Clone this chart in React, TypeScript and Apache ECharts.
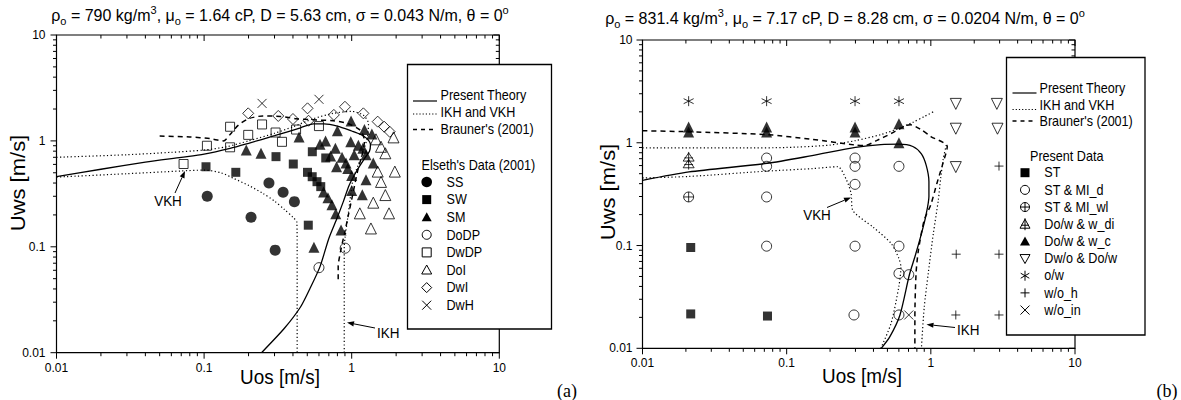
import React, { useEffect, useRef } from 'react';
import * as echarts from 'echarts';

// ---------- Panel (a) data: Elseth's Data (2001) ----------
const A_SS = [[0.105, 0.30], [0.208, 0.19], [0.275, 0.40], [0.343, 0.327], [0.409, 0.267], [0.303, 0.093]];
const A_SW = [[0.103, 0.57], [0.164, 0.505], [0.307, 0.71], [0.402, 0.605], [0.541, 0.79], [0.667, 0.69], [0.502, 0.505], [0.54, 0.459], [0.582, 0.412], [0.617, 0.37], [0.508, 0.16]];
const A_SM = [[0.193, 0.82], [0.243, 0.765], [0.44, 1.09], [0.61, 0.93], [0.665, 1.0], [0.80, 1.25], [0.775, 0.85], [0.79, 0.57], [0.915, 0.62], [0.99, 1.54], [0.985, 0.98], [1.04, 0.74], [1.11, 0.91], [1.19, 0.85], [1.22, 1.28], [1.37, 1.16], [1.25, 0.74], [1.40, 0.62], [1.0, 0.47], [1.0, 0.34], [1.18, 0.31], [1.25, 0.43], [0.645, 0.33], [0.69, 0.29], [0.735, 0.25], [0.78, 0.205], [0.847, 0.144], [0.555, 0.099], [0.72, 0.72], [0.86, 0.70], [0.94, 0.55]];
const A_DoDP = [[0.60, 0.0635], [0.903, 0.097]];
const A_DwDP = [[0.0726, 0.605], [0.1045, 0.90], [0.150, 1.36], [0.150, 0.87], [0.199, 1.14], [0.247, 1.43], [0.305, 1.20], [0.337, 0.98], [0.42, 1.28], [0.60, 1.38]];
const A_DoI = [[1.92, 1.08], [1.96, 0.513], [1.69, 0.764], [1.58, 0.88], [1.46, 1.035], [1.50, 0.513], [1.58, 0.41], [1.69, 0.308], [1.79, 0.207], [1.40, 0.261], [1.135, 0.207], [1.35, 0.149]];
const A_DwI = [[0.199, 1.82], [0.318, 1.72], [0.40, 1.61], [0.502, 2.03], [0.51, 1.55], [0.757, 1.76], [0.90, 2.10], [1.20, 1.82], [1.50, 1.52], [1.66, 1.36], [1.81, 1.22]];
const A_DwH = [[0.247, 2.26], [0.60, 2.47]];

const A_THEORY = [[0.01, 0.46], [0.02, 0.54], [0.04, 0.63], [0.07, 0.70], [0.1, 0.75], [0.15, 0.85], [0.2, 0.95], [0.3, 1.12], [0.45, 1.33], [0.55, 1.45], [0.65, 1.45], [0.8, 1.38], [1.0, 1.24], [1.15, 1.15], [1.27, 1.05], [1.34, 0.92], [1.32, 0.8], [1.22, 0.68], [1.08, 0.52], [0.96, 0.38], [0.88, 0.27], [0.80, 0.19], [0.70, 0.12], [0.61, 0.065], [0.52, 0.04], [0.45, 0.027], [0.35, 0.017], [0.245, 0.01]];
const A_IKH = [[0.01, 0.70], [0.03, 0.74], [0.06, 0.78], [0.1, 0.82], [0.142, 0.88], [0.2, 1.0], [0.3, 1.18], [0.4, 1.36], [0.55, 1.62], [0.75, 1.82], [1.0, 1.9], [1.2, 1.75], [1.3, 1.45], [1.28, 1.1], [1.2, 0.8], [1.1, 0.58], [1.02, 0.43], [0.95, 0.21], [0.9, 0.12], [0.89, 0.1], [0.89, 0.01]];
const A_VKH = [[0.01, 0.455], [0.03, 0.49], [0.07, 0.52], [0.1, 0.53], [0.13, 0.5], [0.16, 0.44], [0.2, 0.38], [0.25, 0.32], [0.3, 0.27], [0.35, 0.225], [0.4, 0.19], [0.425, 0.17], [0.427, 0.1], [0.427, 0.01]];
const A_BRAUNER = [[0.05, 1.11], [0.08, 1.09], [0.11, 1.05], [0.135, 1.0], [0.15, 1.15], [0.17, 1.4], [0.2, 1.62], [0.25, 1.72], [0.33, 1.7], [0.42, 1.62], [0.55, 1.58], [0.75, 1.55], [0.95, 1.45], [1.15, 1.25], [1.22, 1.0], [1.18, 0.75], [1.1, 0.53], [1.02, 0.32], [0.95, 0.2], [0.9, 0.14], [0.84, 0.09], [0.81, 0.065], [0.81, 0.048]];

// ---------- Panel (b) data: Present Data ----------
const B_ST = [[0.0216, 0.0957], [0.0216, 0.0216], [0.0736, 0.0206]];
const B_ST_MId = [[0.0726, 0.71], [0.0726, 0.59], [0.0726, 0.297], [0.0726, 0.0986], [0.298, 0.71], [0.298, 0.59], [0.298, 0.394], [0.298, 0.0986], [0.293, 0.0211], [0.601, 0.59], [0.601, 0.0986], [0.601, 0.0535], [0.703, 0.052], [0.601, 0.0211]];
const B_ST_MIwl = [[0.0209, 0.297]];
const B_Dow_wdi = [[0.0209, 0.72], [0.0209, 0.62]];
const B_Dow_wc = [[0.0209, 1.42], [0.0209, 1.27], [0.0726, 1.42], [0.0726, 1.27], [0.298, 1.42], [0.298, 1.27], [0.601, 1.53], [0.601, 1.0]];
const B_Dwo_Dow = [[1.49, 2.39], [2.87, 2.39], [1.49, 1.37], [2.9, 1.37], [1.49, 0.58]];
const B_ow = [[0.0209, 2.54], [0.0726, 2.54], [0.298, 2.54], [0.601, 2.54]];
const B_wo_h = [[2.97, 0.593], [1.5, 0.0824], [2.97, 0.0824], [1.49, 0.0211], [2.97, 0.0211]];
const B_wo_in = [[0.703, 0.0211]];

const B_THEORY = [[0.01, 0.43], [0.021, 0.52], [0.073, 0.63], [0.15, 0.75], [0.3, 0.90], [0.45, 0.96], [0.6, 0.97], [0.75, 0.92], [0.86, 0.78], [0.93, 0.6], [0.97, 0.42], [0.97, 0.3], [0.92, 0.19], [0.86, 0.13], [0.78, 0.08], [0.71, 0.052], [0.61, 0.021], [0.52, 0.013], [0.453, 0.01]];
const B_IKH_UP = [[0.01, 0.89], [0.05, 0.89], [0.1, 0.9], [0.2, 0.95], [0.3, 1.05], [0.45, 1.2], [0.6, 1.38], [0.75, 1.58], [0.9, 1.8], [1.04, 2.0]];
const B_IKH_RIGHT = [[1.28, 0.95], [1.22, 0.7], [1.17, 0.45], [1.127, 0.277], [1.04, 0.13], [0.96, 0.054], [0.9, 0.025], [0.86, 0.01]];
const B_VKH = [[0.01, 0.455], [0.021, 0.47], [0.073, 0.53], [0.15, 0.56], [0.226, 0.585], [0.26, 0.434], [0.28, 0.32], [0.287, 0.221], [0.4, 0.15], [0.53, 0.105], [0.6, 0.075], [0.62, 0.062], [0.6, 0.04], [0.53, 0.0175], [0.45, 0.01]];
const B_BRAUNER = [[0.01, 1.31], [0.021, 1.28], [0.073, 1.2], [0.15, 1.08], [0.3, 0.95], [0.35, 0.94], [0.42, 1.05], [0.53, 1.23], [0.68, 1.48], [0.72, 1.5], [0.85, 1.35], [1.0, 1.15], [1.3, 0.92], [1.2, 0.6], [1.1, 0.4], [1.0, 0.25], [0.9, 0.177], [0.82, 0.09], [0.79, 0.054], [0.775, 0.02], [0.775, 0.01]];

// axis range and tick labels
const AXIS_MIN = 0.01;
const AXIS_MAX = 10;
const TICK_LABELS = ['0.01', '0.1', '1', '10'];
const MINOR_MULTS = [2, 3, 4, 5, 6, 7, 8, 9];

const FONT = '"Liberation Sans", Arial, Helvetica, sans-serif';
const SERIF = '"Liberation Serif", "Times New Roman", serif';
const SX = 0.9; // horizontal text compression of the source picture

const P_CROSS = 'path://M0,0L10,10M10,0L0,10';
const P_PLUS = 'path://M0,5L10,5M5,0L5,10';
const P_STAR = 'path://M5,0L5,10M0.67,2.5L9.33,7.5M0.67,7.5L9.33,2.5';
const P_CPLUS = 'path://M0,5A5,5,0,1,1,10,5A5,5,0,1,1,0,5ZM0,5L10,5M5,0L5,10';
const P_TRISTEM = 'path://M5,1L10,10L0,10ZM5,0L5,12M1,6.5L9,6.5';

type SymKind = 'circleF' | 'circleO' | 'rectF' | 'rectO' | 'triF' | 'triO' | 'triDownO' | 'diamondO' | 'cross' | 'plus' | 'star' | 'cplus' | 'tristem';

const SYMBOL_OF: Record<SymKind, { symbol: string; filled: boolean; size: number; rotate?: number }> = {
  circleF: { symbol: 'circle', filled: true, size: 11 },
  circleO: { symbol: 'circle', filled: false, size: 10 },
  rectF: { symbol: 'rect', filled: true, size: 9 },
  rectO: { symbol: 'rect', filled: false, size: 9 },
  triF: { symbol: 'triangle', filled: true, size: 11 },
  triO: { symbol: 'triangle', filled: false, size: 11 },
  triDownO: { symbol: 'triangle', filled: false, size: 11, rotate: 180 },
  diamondO: { symbol: 'diamond', filled: false, size: 11 },
  cross: { symbol: P_CROSS, filled: false, size: 9 },
  plus: { symbol: P_PLUS, filled: false, size: 9 },
  star: { symbol: P_STAR, filled: false, size: 10 },
  cplus: { symbol: P_CPLUS, filled: false, size: 10 },
  tristem: { symbol: P_TRISTEM, filled: false, size: 11 },
};

function scatter(name: string, data: number[][], gi: number, kind: SymKind) {
  const s = SYMBOL_OF[kind];
  return {
    type: 'scatter', name, data, xAxisIndex: gi, yAxisIndex: gi,
    symbol: s.symbol, symbolSize: s.size, symbolRotate: s.rotate || 0,
    itemStyle: s.filled ? { color: '#000' } : { color: 'rgba(0,0,0,0)', borderColor: '#000', borderWidth: 1 },
    silent: true, z: 5,
  };
}

function curve(name: string, data: number[][], gi: number, kind: 'solid' | 'dotted' | 'dashed') {
  const ls: any = { color: '#000', width: 1.3, type: 'solid' };
  if (kind === 'dotted') { ls.width = 1.2; ls.type = [1.2, 2.4]; }
  if (kind === 'dashed') { ls.width = 1.5; ls.type = [5, 4]; }
  return {
    type: 'line', name, data, xAxisIndex: gi, yAxisIndex: gi, symbol: 'none', smooth: 0.25,
    lineStyle: ls, silent: true, z: 3, clip: true,
  };
}

function tickSeries(gi: number) {
  return {
    type: 'custom', xAxisIndex: gi, yAxisIndex: gi, data: [[1, 1]], silent: true, z: 2, clip: false,
    renderItem: (_p: any, api: any) => {
      const children: any[] = [];
      const add = (x1: number, y1: number, x2: number, y2: number) =>
        children.push({ type: 'line', shape: { x1, y1, x2, y2 }, style: { stroke: '#000', lineWidth: 1 } });
      const lo = Math.log10(AXIS_MIN), hi = Math.log10(AXIS_MAX);
      for (let d = lo; d <= hi; d++) {
        const mults = d === hi ? [1] : [1, ...MINOR_MULTS];
        for (const k of mults) {
          const v = k * Math.pow(10, d);
          const L = k === 1 ? 6 : 3.5;
          const b = api.coord([v, AXIS_MIN]);
          const t = api.coord([v, AXIS_MAX]);
          add(b[0], b[1], b[0], b[1] + L);
          add(t[0], t[1], t[0], t[1] + L);
          const l = api.coord([AXIS_MIN, v]);
          const r = api.coord([AXIS_MAX, v]);
          add(l[0], l[1], l[0] - L, l[1]);
          add(r[0], r[1], r[0] - L, r[1]);
        }
      }
      return { type: 'group', children };
    },
  };
}

function fmtLog(v: number) {
  const e = Math.round(Math.log10(v));
  return TICK_LABELS[e - Math.round(Math.log10(AXIS_MIN))] ?? String(v);
}

function logAxis(gi: number, margin: number) {
  return {
    type: 'log', logBase: 10, gridIndex: gi, min: AXIS_MIN, max: AXIS_MAX, splitNumber: 3,
    axisLine: { show: false }, axisTick: { show: false }, splitLine: { show: false }, minorTick: { show: false },
    axisLabel: { fontFamily: FONT, fontSize: 12, color: '#000', margin, formatter: fmtLog },
  };
}

// ---------- graphic helpers (legend / annotations) ----------
function txt(text: string, x: number, y: number, size: number, align = 'left', extra: any = {}) {
  return {
    type: 'text', x, y, scaleX: SX, silent: true, z: 10,
    style: { text, fontFamily: FONT, fontSize: size, fill: '#000', align, verticalAlign: 'middle' },
    ...extra,
  };
}

function legendSymbol(kind: SymKind, cx: number, cy: number) {
  const st = { stroke: '#000', lineWidth: 1, fill: 'none' };
  const fl = { fill: '#000' };
  const h = 5;
  const Z = 12;
  const ln = (x1: number, y1: number, x2: number, y2: number) => ({ type: 'line', z: Z, silent: true, shape: { x1, y1, x2, y2 }, style: { stroke: '#000', lineWidth: 1 } });
  const tri = (dir: number) => dir > 0
    ? [[cx, cy - h], [cx + h, cy + h * 0.8], [cx - h, cy + h * 0.8]]
    : [[cx - h, cy - h * 0.8], [cx + h, cy - h * 0.8], [cx, cy + h]];
  const poly = (points: number[][], style: any) => ({ type: 'polygon', z: Z, silent: true, shape: { points }, style });
  const circ = (r: number, style: any) => ({ type: 'circle', z: Z, silent: true, shape: { cx, cy, r }, style });
  const sq = (style: any) => ({ type: 'rect', z: Z, silent: true, shape: { x: cx - 4.5, y: cy - 4.5, width: 9, height: 9 }, style });
  switch (kind) {
    case 'circleF': return [circ(5.3, fl)];
    case 'circleO': return [circ(4.5, st)];
    case 'rectF': return [sq(fl)];
    case 'rectO': return [sq(st)];
    case 'triF': return [poly(tri(1), fl)];
    case 'triO': return [poly(tri(1), st)];
    case 'triDownO': return [poly(tri(-1), st)];
    case 'diamondO': return [poly([[cx, cy - h], [cx + h, cy], [cx, cy + h], [cx - h, cy]], st)];
    case 'cross': return [ln(cx - 4.5, cy - 4.5, cx + 4.5, cy + 4.5), ln(cx + 4.5, cy - 4.5, cx - 4.5, cy + 4.5)];
    case 'plus': return [ln(cx - 4.5, cy, cx + 4.5, cy), ln(cx, cy - 4.5, cx, cy + 4.5)];
    case 'star': return [ln(cx, cy - 5, cx, cy + 5), ln(cx - 4.3, cy - 2.5, cx + 4.3, cy + 2.5), ln(cx - 4.3, cy + 2.5, cx + 4.3, cy - 2.5)];
    case 'cplus': return [circ(4.5, st), ln(cx - 4.5, cy, cx + 4.5, cy), ln(cx, cy - 4.5, cx, cy + 4.5)];
    case 'tristem': return [poly(tri(1), st), ln(cx, cy - 6, cx, cy + 6), ln(cx - 4, cy + 1, cx + 4, cy + 1)];
  }
  return [];
}

function legendBlock(cfg: {
  box: [number, number, number, number];
  lx1: number; lx2: number; tx: number;
  lines: { kind: 'solid' | 'dotted' | 'dashed'; ly: number; ty: number; text: string }[];
  header: { x: number; y: number; text: string };
  symX: number; textX: number; y0: number; dy: number;
  items: { kind: SymKind; text: string }[];
}) {
  const els: any[] = [];
  const [bx, by, bw, bh] = cfg.box;
  els.push({ type: 'rect', shape: { x: bx, y: by, width: bw, height: bh }, style: { fill: '#fff', stroke: '#000', lineWidth: 1.3 }, z: 9, silent: true });
  for (const l of cfg.lines) {
    const dash = l.kind === 'dotted' ? [1.2, 2] : l.kind === 'dashed' ? [4, 4] : null;
    els.push({ type: 'line', shape: { x1: cfg.lx1, y1: l.ly, x2: cfg.lx2, y2: l.ly }, style: { stroke: '#000', lineWidth: l.kind === 'dashed' ? 1.5 : 1.2, lineDash: dash }, z: 12, silent: true });
    els.push(txt(l.text, cfg.tx, l.ty, 14, 'left', { z: 12 }));
  }
  els.push(txt(cfg.header.text, cfg.header.x, cfg.header.y, 14, 'left', { z: 12 }));
  cfg.items.forEach((it, i) => {
    const y = cfg.y0 + i * cfg.dy;
    els.push(...legendSymbol(it.kind, cfg.symX, y));
    els.push(txt(it.text, cfg.textX, y, 14, 'left', { z: 12 }));
  });
  return els;
}

function arrow(x1: number, y1: number, x2: number, y2: number) {
  const ang = Math.atan2(y2 - y1, x2 - x1);
  const L = 7, W = 2.6;
  const bx = x2 - L * Math.cos(ang), by = y2 - L * Math.sin(ang);
  const px = -Math.sin(ang) * W, py = Math.cos(ang) * W;
  return [
    { type: 'line', shape: { x1, y1, x2: bx, y2: by }, style: { stroke: '#000', lineWidth: 1 }, silent: true, z: 10 },
    { type: 'polygon', shape: { points: [[x2, y2], [bx + px, by + py], [bx - px, by - py]] }, style: { fill: '#000' }, silent: true, z: 10 },
  ];
}

function title(parts: [string, string][], x: number, y: number) {
  const text = parts.map(([k, s]) => `{${k}|${s}}`).join('');
  const main = 16, small = 11;
  return {
    type: 'text', x, y, silent: true, z: 10,
    style: {
      text, align: 'center', verticalAlign: 'middle', fill: '#000', fontFamily: FONT, fontSize: main,
      font: `${main}px ${FONT}`,
      rich: {
        t: { font: `${main}px ${FONT}`, fontFamily: FONT, fontSize: main, lineHeight: 22, fill: '#000', color: '#000' },
        sub: { font: `${small}px ${FONT}`, fontFamily: FONT, fontSize: small, lineHeight: 12, verticalAlign: 'bottom', fill: '#000', color: '#000' },
        sup: { font: `${small}px ${FONT}`, fontFamily: FONT, fontSize: small, lineHeight: 12, verticalAlign: 'top', fill: '#000', color: '#000' },
      },
    },
  };
}

const LEGEND_A_ITEMS: { kind: SymKind; text: string }[] = [
  { kind: 'circleF', text: 'SS' }, { kind: 'rectF', text: 'SW' }, { kind: 'triF', text: 'SM' },
  { kind: 'circleO', text: 'DoDP' }, { kind: 'rectO', text: 'DwDP' }, { kind: 'triO', text: 'DoI' },
  { kind: 'diamondO', text: 'DwI' }, { kind: 'cross', text: 'DwH' },
];
const LEGEND_B_ITEMS: { kind: SymKind; text: string }[] = [
  { kind: 'rectF', text: 'ST' }, { kind: 'circleO', text: 'ST & MI_d' }, { kind: 'cplus', text: 'ST & MI_wl' },
  { kind: 'tristem', text: 'Do/w & w_di' }, { kind: 'triF', text: 'Do/w & w_c' }, { kind: 'triDownO', text: 'Dw/o & Do/w' },
  { kind: 'star', text: 'o/w' }, { kind: 'plus', text: 'w/o_h' }, { kind: 'cross', text: 'w/o_in' },
];

export default function App() {
  const ref = useRef<HTMLDivElement>(null);
  useEffect(() => {
    if (!ref.current) return;
    const chart = echarts.init(ref.current, undefined, { renderer: 'svg' });

    const graphics: any[] = [
      title([['t', 'ρ'], ['sub', 'o'], ['t', ' = 790 kg/m'], ['sup', '3'], ['t', ', μ'], ['sub', 'o'], ['t', ' = 1.64 cP, D = 5.63 cm, σ = 0.043 N/m, θ = 0'], ['sup', 'o']], 280, 15),
      title([['t', 'ρ'], ['sub', 'o'], ['t', ' = 831.4 kg/m'], ['sup', '3'], ['t', ', μ'], ['sub', 'o'], ['t', ' = 7.17 cP, D = 8.28 cm, σ = 0.0204 N/m, θ = 0'], ['sup', 'o']], 845, 18),
      txt('Uos [m/s]', 280, 377, 21, 'center'),
      txt('Uos [m/s]', 862, 376, 21, 'center'),
      txt('Uws [m/s]', 18, 183, 22, 'center', { rotation: Math.PI / 2, scaleX: 1, scaleY: SX }),
      txt('Uws [m/s]', 608, 192, 22, 'center', { rotation: Math.PI / 2, scaleX: 1, scaleY: SX }),
      { type: 'text', x: 567, y: 391, silent: true, style: { text: '(a)', fontFamily: SERIF, fontSize: 18, fill: '#000', align: 'center', verticalAlign: 'middle' } },
      { type: 'text', x: 1167, y: 391, silent: true, style: { text: '(b)', fontFamily: SERIF, fontSize: 18, fill: '#000', align: 'center', verticalAlign: 'middle' } },
      txt('VKH', 168, 201, 15, 'center'),
      ...arrow(175, 193, 185, 171),
      txt('IKH', 377, 333, 15, 'left'),
      ...arrow(375, 328, 347, 322.5),
      txt('VKH', 817, 215, 15, 'center'),
      ...arrow(827, 207.5, 851, 197.5),
      txt('IKH', 957, 330, 15, 'left'),
      ...arrow(955, 327.5, 926.5, 324.5),
      ...legendBlock({
        box: [407.5, 64.5, 144, 264.5], lx1: 413, lx2: 437, tx: 440.5,
        lines: [
          { kind: 'solid', ly: 101, ty: 95, text: 'Present Theory' },
          { kind: 'dotted', ly: 114, ty: 112, text: 'IKH and VKH' },
          { kind: 'dashed', ly: 129.5, ty: 129.5, text: "Brauner's (2001)" },
        ],
        header: { x: 421.5, y: 165, text: "Elseth's Data (2001)" },
        symX: 426.7, textX: 446.5, y0: 182, dy: 17.6, items: LEGEND_A_ITEMS,
      }),
      ...legendBlock({
        box: [1006.5, 57.5, 138.5, 277.5], lx1: 1012.5, lx2: 1036.5, tx: 1039.5,
        lines: [
          { kind: 'solid', ly: 93, ty: 88, text: 'Present Theory' },
          { kind: 'dotted', ly: 109.5, ty: 105, text: 'IKH and VKH' },
          { kind: 'dashed', ly: 121, ty: 121, text: "Brauner's (2001)" },
        ],
        header: { x: 1030, y: 156, text: 'Present Data' },
        symX: 1025, textX: 1044.3, y0: 172.7, dy: 17.17, items: LEGEND_B_ITEMS,
      }),
    ];

    const option: any = {
      animation: false,
      backgroundColor: '#fff',
      grid: [
        { left: 56.5, top: 35, width: 442.8, height: 317.7, show: true, borderColor: '#000', borderWidth: 1.2, backgroundColor: 'transparent', containLabel: false },
        { left: 642.5, top: 40, width: 432.5, height: 308.3, show: true, borderColor: '#000', borderWidth: 1.2, backgroundColor: 'transparent', containLabel: false },
      ],
      xAxis: [logAxis(0, 9), logAxis(1, 9)],
      yAxis: [logAxis(0, 11), logAxis(1, 10)],
      graphic: { elements: graphics },
      series: [
        tickSeries(0), tickSeries(1),
        curve('Present Theory', A_THEORY, 0, 'solid'),
        curve('IKH', A_IKH, 0, 'dotted'),
        curve('VKH', A_VKH, 0, 'dotted'),
        curve("Brauner's (2001)", A_BRAUNER, 0, 'dashed'),
        scatter('SS', A_SS, 0, 'circleF'),
        scatter('SW', A_SW, 0, 'rectF'),
        scatter('SM', A_SM, 0, 'triF'),
        scatter('DoDP', A_DoDP, 0, 'circleO'),
        scatter('DwDP', A_DwDP, 0, 'rectO'),
        scatter('DoI', A_DoI, 0, 'triO'),
        scatter('DwI', A_DwI, 0, 'diamondO'),
        scatter('DwH', A_DwH, 0, 'cross'),

        curve('Present Theory b', B_THEORY, 1, 'solid'),
        curve('IKH b upper', B_IKH_UP, 1, 'dotted'),
        curve('IKH b', B_IKH_RIGHT, 1, 'dotted'),
        curve('VKH b', B_VKH, 1, 'dotted'),
        curve("Brauner's (2001) b", B_BRAUNER, 1, 'dashed'),
        scatter('ST', B_ST, 1, 'rectF'),
        scatter('ST & MI_d', B_ST_MId, 1, 'circleO'),
        scatter('ST & MI_wl', B_ST_MIwl, 1, 'cplus'),
        scatter('Do/w & w_di', B_Dow_wdi, 1, 'tristem'),
        scatter('Do/w & w_c', B_Dow_wc, 1, 'triF'),
        scatter('Dw/o & Do/w', B_Dwo_Dow, 1, 'triDownO'),
        scatter('o/w', B_ow, 1, 'star'),
        scatter('w/o_h', B_wo_h, 1, 'plus'),
        scatter('w/o_in', B_wo_in, 1, 'cross'),
      ],
    };
    chart.setOption(option);
    return () => chart.dispose();
  }, []);
  return <div ref={ref} style={{ position: 'fixed', left: 0, top: 0, width: 1181, height: 400, background: '#fff' }} />;
}
